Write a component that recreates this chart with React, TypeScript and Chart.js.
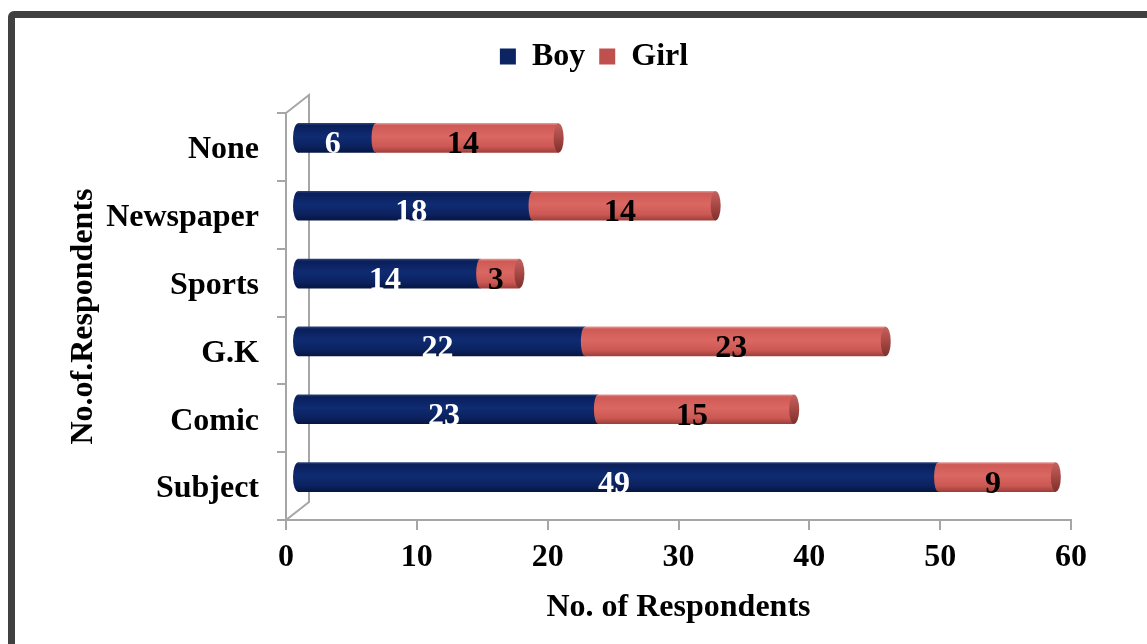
import { useEffect, useRef } from 'react';
import { Chart, registerables } from 'chart.js';

Chart.register(...registerables);

// ---- data ----
const categories = ['None', 'Newspaper', 'Sports', 'G.K', 'Comic', 'Subject'];
const boyValues = [6, 18, 14, 22, 23, 49];
const girlValues = [14, 14, 3, 23, 15, 9];
const seriesNames = ['Boy', 'Girl'];
const xTickValues = [0, 10, 20, 30, 40, 50, 60];
const xAxisTitle = 'No. of Respondents';
const yAxisTitle = 'No.of.Respondents';

// ---- styles ----
const FONT = "'Liberation Serif', 'Times New Roman', serif";
const FONT_SIZE = 32;
const AXIS_GRAY = '#A6A6A6';
const BOY_FLAT = '#0D2463';
const GIRL_FLAT = '#C0504D';
const BAR_H = 29;
const DX = 11;
const DY = -9;
const DEPTH_X = 23;
const DEPTH_Y = -18;
const LEGEND_SHIFT = 27;

const boyStops: [number, string][] = [
  [0, '#2c4079'],
  [0.07, '#0a1f5a'],
  [0.45, '#0f2b72'],
  [0.8, '#0b225f'],
  [1, '#061642'],
];
const girlStops: [number, string][] = [
  [0, '#e39591'],
  [0.07, '#cf5a55'],
  [0.45, '#db6762'],
  [0.8, '#cc5853'],
  [1, '#9e3f3b'],
];
const capStops: [number, string][] = [
  [0, '#c2625e'],
  [0.5, '#a64844'],
  [1, '#7e302d'],
];

function makeGradient(ctx: CanvasRenderingContext2D, yc: number, stops: [number, string][]) {
  const g = ctx.createLinearGradient(0, yc - BAR_H / 2, 0, yc + BAR_H / 2);
  stops.forEach(([o, c]) => g.addColorStop(o, c));
  return g;
}

function barFill(stops: [number, string][], fallback: string) {
  return (c: any) => {
    if (c.type !== 'data') return fallback;
    const ys = c.chart.scales && c.chart.scales.y;
    if (!ys) return fallback;
    const yc = ys.getPixelForValue(c.dataIndex);
    if (!isFinite(yc)) return fallback;
    return makeGradient(c.chart.ctx, yc, stops);
  };
}

const cylinderPlugin = {
  id: 'cylinder3d',
  afterLayout(chart: any) {
    if (chart.legend) {
      chart.legend.left += LEGEND_SHIFT;
      chart.legend.right += LEGEND_SHIFT;
    }
  },
  beforeDatasetsDraw(chart: any) {
    const { ctx, chartArea: a } = chart;
    ctx.save();
    ctx.strokeStyle = AXIS_GRAY;
    ctx.lineWidth = 2;
    ctx.beginPath();
    ctx.moveTo(a.left, a.top);
    ctx.lineTo(a.left + DEPTH_X, a.top + DEPTH_Y);
    ctx.lineTo(a.left + DEPTH_X, a.bottom + DEPTH_Y);
    ctx.lineTo(a.left, a.bottom);
    ctx.stroke();
    ctx.restore();
    ctx.save();
    ctx.translate(DX, DY);
  },
  afterDatasetsDraw(chart: any) {
    const ctx: CanvasRenderingContext2D = chart.ctx;
    const boyMeta = chart.getDatasetMeta(0);
    const girlMeta = chart.getDatasetMeta(1);
    boyMeta.data.forEach((el: any) => {
      const p = el.getProps(['x', 'y', 'base', 'height'], true);
      ctx.beginPath();
      ctx.ellipse(p.base, p.y, 5, p.height / 2, 0, 0, Math.PI * 2);
      ctx.fillStyle = makeGradient(ctx, p.y, boyStops);
      ctx.fill();
    });
    girlMeta.data.forEach((el: any) => {
      const p = el.getProps(['x', 'y', 'base', 'height'], true);
      ctx.beginPath();
      ctx.ellipse(p.base, p.y, 4, p.height / 2, 0, 0, Math.PI * 2);
      ctx.fillStyle = makeGradient(ctx, p.y, girlStops);
      ctx.fill();
      ctx.beginPath();
      ctx.ellipse(p.x, p.y, 5, p.height / 2, 0, 0, Math.PI * 2);
      ctx.fillStyle = makeGradient(ctx, p.y, capStops);
      ctx.fill();
    });
    ctx.font = `bold ${FONT_SIZE}px ${FONT}`;
    ctx.textAlign = 'center';
    ctx.textBaseline = 'alphabetic';
    [boyMeta, girlMeta].forEach((meta: any, di: number) => {
      const vals = di === 0 ? boyValues : girlValues;
      ctx.fillStyle = di === 0 ? '#FFFFFF' : '#000000';
      meta.data.forEach((el: any, i: number) => {
        const p = el.getProps(['x', 'y', 'base'], true);
        ctx.fillText(String(vals[i]), (p.x + p.base) / 2 - 4, p.y + 15.5);
      });
    });
    ctx.restore();
  },
};

export default function App() {
  const ref = useRef<HTMLCanvasElement | null>(null);

  useEffect(() => {
    if (!ref.current) return;
    const tickFont = { family: FONT, size: FONT_SIZE, weight: 'bold' as const };
    const legendColors = [BOY_FLAT, GIRL_FLAT];
    const chart = new Chart(ref.current, {
      type: 'bar',
      data: {
        labels: categories,
        datasets: [
          {
            label: seriesNames[0],
            data: boyValues,
            backgroundColor: barFill(boyStops, BOY_FLAT),
            borderWidth: 0,
            barThickness: BAR_H,
          },
          {
            label: seriesNames[1],
            data: girlValues,
            backgroundColor: barFill(girlStops, GIRL_FLAT),
            borderWidth: 0,
            barThickness: BAR_H,
          },
        ],
      },
      options: {
        responsive: false,
        animation: false,
        indexAxis: 'y',
        layout: { padding: { left: 63, right: 76, top: 26.5, bottom: 15 } },
        plugins: {
          legend: {
            position: 'top',
            weight: 3000,
            labels: {
              font: tickFont,
              color: '#000',
              boxWidth: 16,
              boxHeight: 16,
              padding: 14,
              generateLabels(ch: any) {
                const items = Chart.defaults.plugins.legend.labels.generateLabels(ch);
                return items.map((it: any, i: number) => ({
                  ...it,
                  fillStyle: legendColors[i],
                  strokeStyle: legendColors[i],
                  lineWidth: 0,
                }));
              },
            },
          } as any,
          title: {
            display: true,
            text: ' ',
            weight: 500,
            font: { size: 10, lineHeight: 1 },
            padding: { top: 20.5, bottom: 0 },
          } as any,
          tooltip: { enabled: false },
        },
        scales: {
          x: {
            stacked: true,
            min: xTickValues[0],
            max: xTickValues[xTickValues.length - 1],
            ticks: { stepSize: xTickValues[1] - xTickValues[0], padding: 9, font: tickFont, color: '#000' },
            grid: { drawOnChartArea: false, tickLength: 10, color: AXIS_GRAY, lineWidth: 2 },
            border: { color: AXIS_GRAY, width: 2 },
            title: { display: true, text: xAxisTitle, font: tickFont, color: '#000', padding: { top: 0, bottom: 2.5 } },
            afterFit(s: any) {
              s.height = 109;
            },
          },
          y: {
            stacked: true,
            ticks: { padding: 18, labelOffset: 3, font: tickFont, color: '#000' },
            grid: { offset: true, drawOnChartArea: false, tickLength: 9, color: AXIS_GRAY, lineWidth: 2 },
            border: { color: AXIS_GRAY, width: 2 },
            title: { display: true, text: yAxisTitle, font: tickFont, color: '#000', padding: { top: 1.8, bottom: 0 } },
            afterFit(s: any) {
              s.width = 223;
            },
          },
        },
      },
      plugins: [cylinderPlugin],
    });
    return () => chart.destroy();
  }, []);

  return (
    <div style={{ position: 'fixed', inset: 0, overflow: 'hidden', background: '#fff' }}>
      <div
        style={{
          position: 'absolute',
          left: 8,
          top: 11,
          width: 1200,
          height: 700,
          border: '7px solid #404040',
          borderRadius: 6,
          boxSizing: 'border-box',
        }}
      />
      <canvas
        ref={ref}
        width={1147}
        height={644}
        style={{ position: 'absolute', left: 0, top: 0, width: 1147, height: 644, display: 'block' }}
      />
    </div>
  );
}
